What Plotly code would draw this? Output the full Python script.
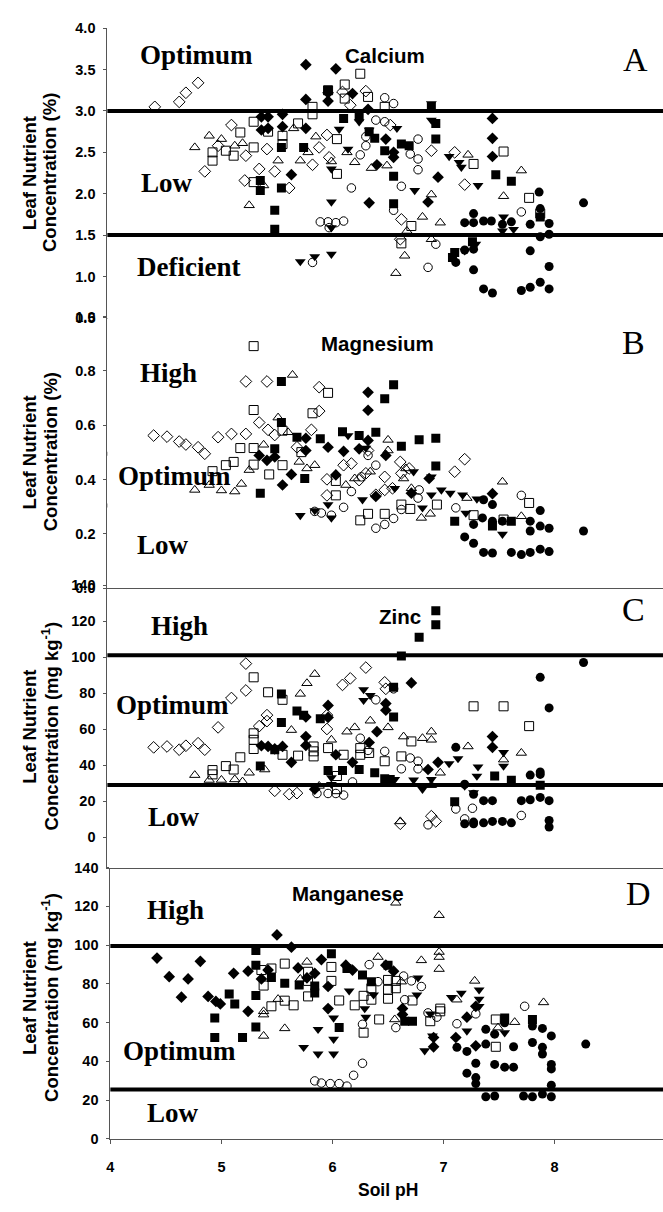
import plotly.graph_objects as go

W, H = 663, 1212

# ---------------- Panel A: Calcium (%) ----------------
CA_OD_X = [4.40,4.62,4.68,4.79,4.85,4.97,5.09,5.22,5.21,5.34,5.41,5.48,5.61,5.82,5.88,5.95,5.97,6.09,6.16,6.30,6.52,6.62,6.61,6.89,7.10,7.19]
CA_OD_Y = [3.05,3.11,3.22,3.34,2.27,2.58,2.83,2.46,2.16,2.30,2.54,2.27,2.07,2.35,2.56,2.71,2.44,3.23,3.07,3.24,2.83,1.69,1.45,2.52,2.50,2.11]
CA_OT_X = [4.76,4.89,5.00,5.12,5.19,5.25,5.38,5.51,5.65,5.71,5.85,5.78,5.99,6.13,6.20,6.35,6.49,6.57,6.65,6.67,6.81,6.89,6.89,6.97,7.22,7.54,7.70]
CA_OT_Y = [2.56,2.70,2.66,2.58,2.61,1.86,2.10,2.40,2.79,2.40,2.69,2.50,2.39,2.50,2.38,2.31,2.34,1.04,1.25,1.55,1.72,1.99,1.45,1.65,2.47,1.97,2.28]
CA_OS_X = [4.92,4.92,5.04,5.11,5.17,5.29,5.29,5.29,5.42,5.55,5.55,5.69,5.82,5.82,5.96,6.04,6.04,6.11,6.11,6.25,6.32,6.47,6.71,6.62,7.27,7.54,7.77,7.87]
CA_OS_Y = [2.50,2.40,2.52,2.46,2.74,2.87,2.56,2.14,2.75,2.70,2.60,2.85,3.05,2.96,3.25,2.66,2.24,3.32,3.15,3.45,3.17,3.05,1.61,1.40,2.36,2.51,1.95,1.76]
CA_OC_X = [5.82,5.89,5.96,6.03,6.10,5.97,6.17,6.25,6.30,6.39,6.47,6.55,6.47,6.55,6.62,6.70,6.77,6.77,6.77,6.86,6.93,7.70,6.30]
CA_OC_Y = [1.17,1.66,1.66,1.65,1.67,1.59,2.07,2.47,2.69,2.89,3.16,3.09,2.87,1.80,2.09,2.48,2.66,2.42,2.29,1.11,1.39,1.78,2.58]
CA_FD_X = [5.36,5.42,5.36,5.42,5.55,5.55,5.63,5.76,5.76,5.76,5.96,5.96,6.03,6.18,6.32,6.33,6.40,6.48,6.55,6.55,6.86,6.95,7.44,7.44,7.44]
CA_FD_Y = [2.93,2.93,2.77,2.79,2.96,2.81,2.23,3.56,3.14,2.79,3.22,3.12,3.51,3.21,3.02,1.89,2.35,2.66,2.50,2.44,1.90,2.20,2.91,2.67,2.45]
CA_FS_X = [5.35,5.35,5.48,5.48,5.54,5.54,5.74,5.96,6.10,6.24,6.33,6.38,6.47,6.55,6.55,6.62,6.69,6.93,6.93,6.89,7.10,7.26,7.47,7.61,7.87,7.08]
CA_FS_Y = [2.04,2.16,1.80,1.57,2.56,2.07,2.56,3.25,2.91,2.93,2.75,2.67,2.52,2.21,1.88,2.60,2.58,2.85,2.66,3.05,1.29,1.42,2.23,2.15,1.72,1.23]
CA_FT_X = [5.71,5.84,5.99,5.99,5.99,5.99,6.06,6.14,6.24,6.33,6.58,6.74,6.89,6.89,7.05,7.16,7.31,7.54,7.29,7.19,7.53,7.63,7.14]
CA_FT_Y = [1.18,1.24,1.27,1.90,1.59,2.30,2.78,2.54,2.87,2.77,2.79,2.04,3.09,2.89,2.45,2.32,2.10,1.72,1.39,1.31,1.55,1.57,2.38]
CA_FC_X = [7.19,7.27,7.27,7.36,7.43,7.53,7.61,7.78,7.86,7.87,7.95,7.95,7.87,7.19,7.27,7.27,7.36,7.44,7.70,7.78,7.87,7.95,7.95,7.78,8.26,7.11]
CA_FC_Y = [1.65,1.76,1.65,1.67,1.67,1.63,1.66,1.63,2.02,1.82,1.64,1.51,1.48,1.32,1.08,1.33,0.85,0.80,0.83,0.87,0.93,0.85,1.12,1.31,1.89,1.17]

# ---------------- Panel B: Magnesium (%) ----------------
MG_OD_X = [4.39,4.51,4.62,4.68,4.79,4.85,4.97,5.09,5.22,5.22,5.34,5.41,5.42,5.48,5.68,5.81,5.88,5.88,5.95,5.95,6.10,6.17,6.24,6.30,6.32,6.39,6.47,6.54,6.61,6.62,6.69,7.10,7.19,6.47]
MG_OD_Y = [0.562,0.558,0.540,0.529,0.519,0.495,0.556,0.568,0.568,0.761,0.610,0.761,0.583,0.564,0.519,0.583,0.740,0.652,0.401,0.342,0.453,0.459,0.398,0.423,0.507,0.344,0.410,0.368,0.465,0.423,0.441,0.429,0.475,0.362]
MG_OT_X = [4.76,4.89,5.00,5.12,5.18,5.25,5.38,5.51,5.64,5.60,5.70,5.77,5.84,6.12,6.20,6.34,6.50,6.50,6.64,6.66,6.71,6.80,6.88,7.21,7.53,7.70]
MG_OT_Y = [0.362,0.380,0.360,0.356,0.384,0.435,0.528,0.628,0.785,0.574,0.465,0.441,0.453,0.380,0.404,0.429,0.546,0.507,0.404,0.441,0.368,0.259,0.274,0.332,0.392,0.265]
MG_OS_X = [5.29,5.29,5.17,5.29,5.29,5.11,5.04,4.92,5.43,5.55,5.55,5.72,5.82,5.96,6.03,6.03,6.25,6.32,6.47,6.62,6.70,7.27,7.54,7.77,6.94]
MG_OS_Y = [0.891,0.656,0.516,0.516,0.455,0.465,0.453,0.431,0.419,0.453,0.580,0.501,0.644,0.719,0.342,0.395,0.250,0.274,0.274,0.308,0.292,0.269,0.253,0.314,0.308]
MG_OC_X = [5.84,5.90,5.99,6.10,6.17,6.26,6.39,6.39,6.47,6.55,6.62,6.77,6.78,6.32,7.11,7.70]
MG_OC_Y = [0.283,0.277,0.269,0.298,0.356,0.410,0.453,0.221,0.235,0.257,0.290,0.332,0.362,0.489,0.296,0.342]
MG_FD_X = [5.34,5.41,5.55,5.63,5.76,5.76,5.96,6.03,6.10,6.24,6.32,6.32,6.32,6.39,6.48,6.71,6.87,7.44,5.48]
MG_FD_Y = [0.489,0.471,0.380,0.419,0.552,0.507,0.519,0.417,0.504,0.513,0.721,0.655,0.544,0.338,0.489,0.350,0.404,0.348,0.483]
MG_FS_X = [5.35,5.48,5.54,5.75,5.68,5.89,6.09,6.24,6.39,6.47,6.55,6.62,6.78,6.93,6.93,5.54,7.10,7.44,7.61]
MG_FS_Y = [0.350,0.513,0.610,0.404,0.556,0.550,0.576,0.562,0.574,0.697,0.749,0.523,0.547,0.552,0.450,0.761,0.247,0.229,0.247]
MG_FT_X = [5.71,5.84,5.99,5.96,6.14,6.27,6.30,6.56,6.73,6.89,6.98,7.06,7.17,7.30,7.53,6.81,7.20,6.89]
MG_FT_Y = [0.268,0.286,0.259,0.308,0.562,0.326,0.516,0.368,0.429,0.410,0.362,0.350,0.344,0.329,0.199,0.296,0.277,0.344]
MG_FC_X = [7.19,7.27,7.36,7.44,7.61,7.70,7.78,7.87,7.95,7.35,7.44,7.53,7.78,7.78,7.87,7.95,7.87,7.44,8.26,7.36,7.27]
MG_FC_Y = [0.189,0.166,0.132,0.130,0.132,0.124,0.132,0.144,0.135,0.259,0.247,0.247,0.247,0.211,0.286,0.221,0.229,0.308,0.211,0.326,0.235]

# ---------------- Panel C: Zinc (mg kg-1) ----------------
ZN_OD_X = [4.39,4.51,4.62,4.68,4.79,4.85,4.97,5.09,5.22,5.22,5.34,5.41,5.41,5.48,5.61,5.68,5.95,5.95,6.09,6.16,6.30,6.47,6.61,6.89,6.93,6.48]
ZN_OD_Y = [49.9,50.4,48.6,50.8,52.2,48.6,61.0,77.3,81.5,96.4,61.7,64.5,67.8,25.8,23.9,24.5,60.1,67.8,84.6,88.2,94.2,86.0,7.5,11.7,8.8,82.4]
ZN_OT_X = [4.76,4.89,5.00,5.12,5.19,5.25,5.39,5.63,5.71,5.77,5.84,5.99,6.13,6.20,6.34,6.50,6.64,6.81,6.89,6.89,6.97,7.22,7.54,7.70,6.89,5.88,6.61]
ZN_OT_Y = [34.5,31.8,31.8,32.1,30.9,35.8,37.6,59.5,79.6,85.5,90.6,54.1,58.6,61.0,64.7,61.0,55.9,55.0,58.6,54.1,35.8,50.4,43.1,46.8,28.9,28.5,8.8]
ZN_OS_X = [4.92,4.92,5.04,5.11,5.17,5.29,5.29,5.29,5.29,5.42,5.55,5.55,5.69,5.83,5.83,5.83,5.96,6.04,6.04,6.10,6.25,6.25,6.33,6.47,6.62,6.71,7.27,7.54,7.77]
ZN_OS_Y = [34.9,37.3,39.5,37.6,44.4,57.7,54.1,49.0,88.8,80.5,76.3,45.8,45.3,50.4,47.7,44.9,49.5,34.0,26.7,45.8,49.5,45.8,46.8,42.2,44.9,53.2,72.7,72.7,61.7]
ZN_OC_X = [5.86,5.96,6.03,6.10,6.18,6.25,6.39,6.47,6.55,6.62,6.70,6.77,6.77,6.86,7.11,7.26,7.70,7.19,6.32]
ZN_OC_Y = [24.3,24.3,24.3,23.4,30.7,55.0,76.3,47.7,82.4,38.0,44.0,42.2,38.0,6.9,15.7,16.1,12.1,10.2,48.2]
ZN_FD_X = [5.36,5.42,5.48,5.55,5.63,5.76,5.76,5.76,5.96,5.96,6.03,6.18,6.33,6.40,6.48,6.48,6.71,6.95,6.86,7.44,7.44,5.84]
ZN_FD_Y = [50.8,50.4,49.1,50.4,41.6,55.9,51.0,66.8,73.2,66.5,45.8,41.6,52.6,58.6,70.5,74.2,85.7,41.6,37.6,55.9,49.9,26.7]
ZN_FS_X = [5.35,5.48,5.54,5.54,5.68,5.74,5.89,5.96,6.09,6.24,6.38,6.47,6.55,6.55,6.62,6.78,6.93,6.93,7.10,7.46,7.61,7.87,6.52]
ZN_FS_Y = [39.5,48.6,63.7,79.6,70.1,67.8,65.8,37.1,37.1,37.6,35.8,32.5,66.8,83.3,100.6,111.1,118.0,125.7,19.7,34.0,31.6,28.9,32.1]
ZN_FT_X = [5.99,5.99,6.28,6.28,6.34,6.56,6.73,6.81,6.89,7.05,7.13,7.19,7.31,7.30,7.54,7.54,7.27]
ZN_FT_Y = [33.1,29.4,82.0,76.0,78.7,32.1,31.8,26.7,32.1,40.9,43.7,28.5,39.1,34.0,47.1,39.5,24.8]
ZN_FC_X = [7.11,7.19,7.27,7.36,7.44,7.70,7.78,7.87,7.95,7.78,7.87,7.87,7.87,7.95,8.26,7.19,7.27,7.36,7.44,7.53,7.61,7.95,7.95,7.27]
ZN_FC_Y = [49.9,29.4,23.9,20.3,20.3,20.3,20.8,22.1,20.3,34.5,36.2,34.9,88.8,71.8,97.0,7.5,7.5,8.0,8.8,8.8,8.0,9.3,5.7,8.4]

# ---------------- Panel D: Manganese (mg kg-1) ----------------
MN_OT_X = [5.38,5.38,5.38,5.51,5.57,5.71,5.77,6.41,6.57,6.56,6.80,6.96,6.96,6.96,6.96,7.12,7.28,7.49,7.64,7.90,6.62]
MN_OT_Y = [53.1,64.1,65.8,72.1,57.0,82.5,91.3,93.8,121.8,61.6,92.1,115.4,96.4,93.8,87.6,71.8,81.5,57.4,60.2,70.4,81.1]
MN_OS_X = [5.36,5.45,5.38,5.45,5.57,5.57,5.65,5.78,5.78,5.78,5.99,5.99,6.06,6.20,6.28,6.28,6.35,6.35,6.42,6.50,6.50,6.50,6.57,6.57,6.72,6.88,6.97,6.97,7.47,7.47]
MN_OS_Y = [87.1,87.9,79.1,68.4,90.4,71.3,68.9,86.2,81.5,73.5,88.7,81.5,71.4,68.9,73.8,54.8,71.8,77.7,61.6,82.0,76.9,72.3,81.5,77.7,71.4,60.7,67.2,65.8,61.6,47.5]
MN_OC_X = [5.84,5.90,5.98,6.06,6.13,6.19,6.27,6.27,6.33,6.41,6.57,6.64,6.71,6.80,6.86,6.94,7.12,7.29,7.73,6.65]
MN_OC_Y = [29.9,28.8,28.5,28.5,27.2,32.8,39.0,59.1,89.9,81.1,57.4,84.0,81.5,78.6,65.0,62.8,59.4,64.5,68.4,71.8]
MN_FD_X = [4.42,4.53,4.64,4.70,4.81,4.88,4.95,4.99,5.11,5.24,5.24,5.36,5.42,5.50,5.63,5.69,5.77,5.84,5.90,5.96,5.96,6.12,6.18,6.48,6.55,6.63,6.63,6.91,6.91,7.11,7.21,7.29,7.29]
MN_FD_Y = [93.3,83.7,73.1,82.5,91.6,73.5,70.9,69.6,85.4,86.5,65.8,82.5,87.1,105.2,98.9,88.2,83.1,85.4,92.5,78.6,67.2,89.6,87.1,89.6,86.5,67.2,64.1,52.3,47.5,52.3,62.8,68.4,48.0]
MN_FS_X = [4.94,4.94,5.07,5.12,5.19,5.31,5.31,5.31,5.31,5.45,5.57,5.70,5.84,5.84,5.99,6.06,6.13,6.27,6.35,6.50,6.65,6.72,7.80,7.55]
MN_FS_Y = [62.4,52.3,74.7,69.6,52.3,97.2,89.6,74.0,57.7,83.3,80.3,79.4,78.9,75.2,95.5,57.4,87.9,84.5,81.1,89.6,60.7,60.7,61.6,62.4]
MN_FT_X = [5.74,5.87,5.87,6.01,6.01,6.01,6.15,6.29,6.30,6.37,6.76,6.77,6.83,6.90,7.07,7.16,7.21,7.32,7.32,7.55,7.32,6.88]
MN_FT_Y = [47.2,56.5,43.8,51.4,43.8,62.4,76.4,67.2,62.8,74.3,74.3,83.1,45.5,53.1,73.0,75.2,55.7,76.9,72.1,54.8,68.4,64.5]
MN_FC_X = [7.12,7.21,7.29,7.21,7.29,7.29,7.38,7.38,7.38,7.46,7.46,7.46,7.55,7.55,7.63,7.63,7.72,7.80,7.80,7.80,7.89,7.89,7.89,7.89,7.97,7.97,7.97,7.97,7.97,8.28]
MN_FC_Y = [47.2,45.1,39.0,33.9,31.6,28.5,56.5,48.9,21.7,22.1,54.0,38.4,37.0,59.9,47.5,37.0,22.1,21.7,49.7,58.2,57.0,47.2,43.8,23.1,53.1,38.4,36.1,27.7,21.7,48.9]

# thresholds per panel
CA_LIMITS = [3.0, 1.5]
MG_LIMITS = [0.495, 0.305]
ZN_LIMITS = [101, 29]
MN_LIMITS = [99.5, 25.5]

# tick values
CA_TICKS = [0.5, 1.0, 1.5, 2.0, 2.5, 3.0, 3.5, 4.0]
MG_TICKS = [0.0, 0.2, 0.4, 0.6, 0.8, 1.0]
ZN_TICKS = [0, 20, 40, 60, 80, 100, 120, 140]
MN_TICKS = [0, 20, 40, 60, 80, 100, 120, 140]
PH_TICKS = [4, 5, 6, 7, 8]

SANS = "Liberation Sans, Arial, sans-serif"
SERIF = "Liberation Serif, Times New Roman, serif"

def px_x(p):
    return p / W

def px_y(p):
    return 1 - p / H

# marker styles
STYLE = {
    "OD": dict(symbol="diamond-open", size=9, color="black", line=dict(width=1, color="black")),
    "OT": dict(symbol="triangle-up-open", size=9, color="black", line=dict(width=1, color="black")),
    "OS": dict(symbol="square-open", size=9, color="black", line=dict(width=1, color="black")),
    "OC": dict(symbol="circle-open", size=8.5, color="black", line=dict(width=1, color="black")),
    "FD": dict(symbol="diamond", size=9, color="black", line=dict(width=0)),
    "FS": dict(symbol="square", size=9, color="black", line=dict(width=0)),
    "FT": dict(symbol="triangle-down", size=9.5, color="black", line=dict(width=0)),
    "FC": dict(symbol="circle", size=9, color="black", line=dict(width=0)),
}

panels = [
    dict(sfx="", series={"OD": (CA_OD_X, CA_OD_Y), "OT": (CA_OT_X, CA_OT_Y), "OS": (CA_OS_X, CA_OS_Y),
                        "OC": (CA_OC_X, CA_OC_Y), "FD": (CA_FD_X, CA_FD_Y), "FS": (CA_FS_X, CA_FS_Y),
                        "FT": (CA_FT_X, CA_FT_Y), "FC": (CA_FC_X, CA_FC_Y)},
         limits=CA_LIMITS, ticks=CA_TICKS, fmt=".1f", yr=[0.4999, 4.0001], dom=(314.0, 20.5)),
    dict(sfx="2", series={"OD": (MG_OD_X, MG_OD_Y), "OT": (MG_OT_X, MG_OT_Y), "OS": (MG_OS_X, MG_OS_Y),
                         "OC": (MG_OC_X, MG_OC_Y), "FD": (MG_FD_X, MG_FD_Y), "FS": (MG_FS_X, MG_FS_Y),
                         "FT": (MG_FT_X, MG_FT_Y), "FC": (MG_FC_X, MG_FC_Y)},
         limits=MG_LIMITS, ticks=MG_TICKS, fmt=".1f", yr=[-0.0001, 1.0001], dom=(588.1, 312.6)),
    dict(sfx="3", series={"OD": (ZN_OD_X, ZN_OD_Y), "OT": (ZN_OT_X, ZN_OT_Y), "OS": (ZN_OS_X, ZN_OS_Y),
                         "OC": (ZN_OC_X, ZN_OC_Y), "FD": (ZN_FD_X, ZN_FD_Y), "FS": (ZN_FS_X, ZN_FS_Y),
                         "FT": (ZN_FT_X, ZN_FT_Y), "FC": (ZN_FC_X, ZN_FC_Y)},
         limits=ZN_LIMITS, ticks=ZN_TICKS, fmt="d", yr=[-16.8, 140.01], dom=(871.0, 584.8)),
    dict(sfx="4", series={"OT": (MN_OT_X, MN_OT_Y), "OS": (MN_OS_X, MN_OS_Y), "OC": (MN_OC_X, MN_OC_Y),
                         "FD": (MN_FD_X, MN_FD_Y), "FS": (MN_FS_X, MN_FS_Y), "FT": (MN_FT_X, MN_FT_Y),
                         "FC": (MN_FC_X, MN_FC_Y)},
         limits=MN_LIMITS, ticks=MN_TICKS, fmt="d", yr=[-0.01, 140.01], dom=(1146.0, 871.0)),
]

X_PER_UNIT = 111.75   # px per pH unit
X4_PX = 107.0         # px position of pH 4 (bottom panel)

fig = go.Figure()
shapes = []
layout_axes = {}

for i, p in enumerate(panels):
    sfx = p["sfx"]
    xname = "x" + sfx
    yname = "y" + sfx
    for key, (xs, ys) in p["series"].items():
        st = STYLE[key]
        fig.add_trace(go.Scatter(
            x=xs, y=ys, mode="markers", xaxis=xname, yaxis=yname, showlegend=False,
            marker=dict(symbol=st["symbol"], size=st["size"], color=st["color"], line=st["line"]),
            hoverinfo="x+y"))
    for lim in p["limits"]:
        shapes.append(dict(type="line", xref=xname + " domain", yref=yname, x0=0, x1=1, y0=lim, y1=lim,
                           line=dict(color="black", width=4), layer="below"))
    last = (i == 3)
    axis_px = 107.0 if last else 104.0
    x_lo = 4 - (X4_PX - axis_px) / X_PER_UNIT
    x_hi = 4 + (W - X4_PX) / X_PER_UNIT
    xa = dict(domain=[px_x(axis_px), 1], range=[x_lo, x_hi], anchor=yname, showgrid=False, zeroline=False,
              showline=True, linecolor="#555", linewidth=1)
    if last:
        xa.update(tickmode="array", tickvals=PH_TICKS, ticks="outside", ticklen=4, tickcolor="#555",
                  tickfont=dict(family=SANS, size=14.5, color="black", weight="bold"),
                  ticklabelstandoff=11)
    else:
        xa.update(showticklabels=False, ticks="")
    ya = dict(domain=[px_y(p["dom"][0]), px_y(p["dom"][1])], range=p["yr"], anchor=xname,
              showgrid=False, zeroline=False, showline=True, linecolor="#555", linewidth=1,
              tickmode="array", tickvals=p["ticks"], tickformat=p["fmt"], ticks="outside", ticklen=3,
              tickcolor="#555", tickfont=dict(family=SANS, size=14.5, color="black", weight="bold"),
              ticklabelstandoff=5)
    layout_axes["xaxis" + sfx] = xa
    layout_axes["yaxis" + sfx] = ya

ann = []
def text(x, y, t, size, family=SANS, bold=True, angle=0):
    ann.append(dict(xref="paper", yref="paper", x=px_x(x), y=px_y(y), text=t, showarrow=False,
                    xanchor="center", yanchor="middle", textangle=angle,
                    font=dict(family=family, size=size, color="black", weight="bold" if bold else "normal")))

# y-axis titles (two rotated lines per panel)
for cy, unit in [(167, "Concentration (%)"), (450, "Concentration (%)"),
                 (728, "Concentration (mg kg<sup>-1</sup>)"), (1003, "Concentration (mg kg<sup>-1</sup>)")]:
    text(25.5, cy, "Leaf Nutrient", 18.5, angle=-90)
    text(46.5, cy, unit, 18.5, angle=-90)

# nutrient titles
text(383, 48, "Calcium", 20.5)
text(376, 340, "Magnesium", 20.5)
text(398, 617, "Zinc", 20.5)
text(346, 897, "Manganese", 20.5)

# panel letters
text(635, 52, "A", 34, family=SERIF, bold=False)
text(633, 339, "B", 34, family=SERIF, bold=False)
text(633, 610, "C", 34, family=SERIF, bold=False)
text(638, 897, "D", 34, family=SERIF, bold=False)

# zone labels
ZS = 27
text(194, 48, "Optimum", ZS, family=SERIF)
text(164, 177, "Low", ZS, family=SERIF)
text(186, 262, "Deficient", ZS, family=SERIF)
text(166, 370, "High", ZS, family=SERIF)
text(172, 474, "Optimum", ZS, family=SERIF)
text(160, 544, "Low", ZS, family=SERIF)
text(177, 626, "High", ZS, family=SERIF)
text(170, 706, "Optimum", ZS, family=SERIF)
text(171, 820, "Low", ZS, family=SERIF)
text(173, 914, "High", ZS, family=SERIF)
text(177, 1057, "Optimum", ZS, family=SERIF)
text(170, 1120, "Low", ZS, family=SERIF)

# x-axis title
text(386, 1198, "Soil pH", 17.5)

fig.update_layout(
    width=W, height=H, margin=dict(l=0, r=0, t=0, b=0),
    paper_bgcolor="white", plot_bgcolor="white",
    shapes=shapes, annotations=ann, showlegend=False,
    **layout_axes,
)

fig.write_html("out.html")
